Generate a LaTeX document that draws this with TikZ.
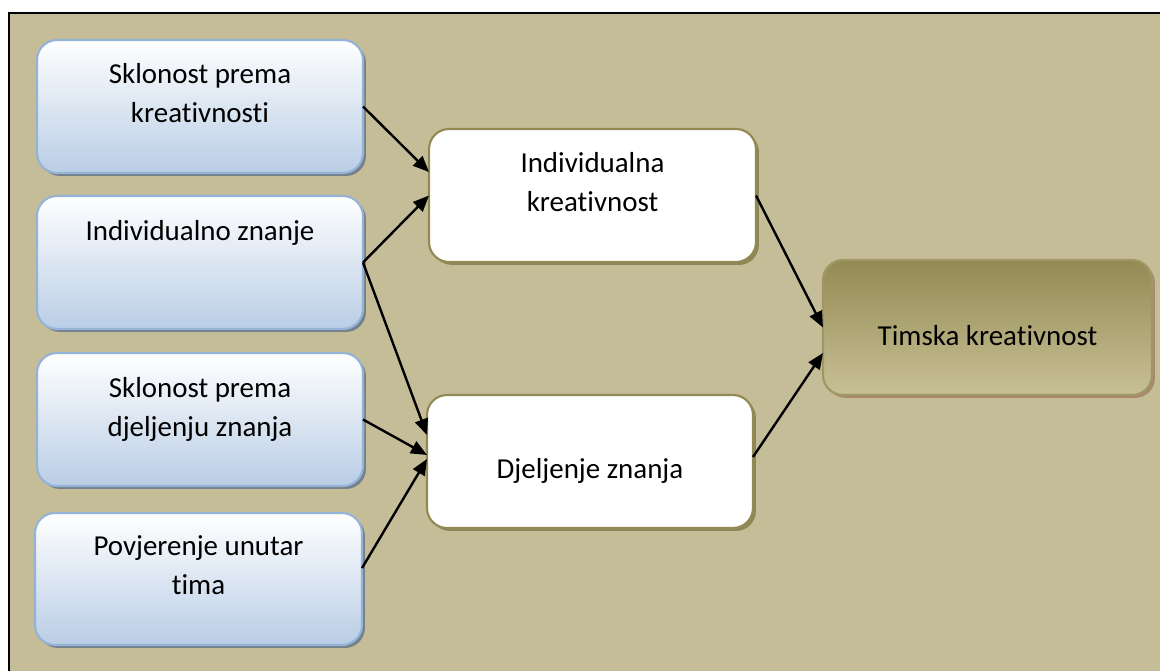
\documentclass[tikz,border=0pt]{standalone}
\usepackage{fontspec}
\setmainfont{Carlito}[Ligatures={NoCommon}]
\usetikzlibrary{arrows.meta,shadows}
\definecolor{bg}{RGB}{196,189,151}
\definecolor{blueline}{RGB}{149,179,215}
\definecolor{bluefill}{RGB}{185,205,229}
\definecolor{blueshadow}{RGB}{118,128,138}
\definecolor{oliveline}{RGB}{147,137,83}
\definecolor{oliveshadow}{RGB}{140,135,88}
\definecolor{rtop}{RGB}{148,138,84}
\definecolor{rbottom}{RGB}{200,192,150}
\definecolor{rline}{RGB}{160,152,100}
\definecolor{rshadow}{RGB}{168,136,112}
\begin{document}
\begin{tikzpicture}[x=0.75pt,y=-0.75pt,
  boxbase/.style={rectangle, rounded corners=15pt, inner sep=0pt, outer sep=0pt, line width=1.6pt},
  bluebox/.style={boxbase, draw=blueline, top color=white, bottom color=bluefill,
    minimum width=244.5pt, minimum height=99.75pt,
    drop shadow={shadow xshift=2.2pt, shadow yshift=-2.2pt, fill=blueshadow, opacity=1}},
  whitebox/.style={boxbase, draw=oliveline, fill=white,
    minimum width=245.25pt, minimum height=99.75pt,
    drop shadow={shadow xshift=2.2pt, shadow yshift=-2.2pt, fill=oliveshadow, opacity=1}},
  olivebox/.style={boxbase, draw=rline, top color=rtop, bottom color=rbottom,
    minimum width=246.75pt, minimum height=101.25pt,
    drop shadow={shadow xshift=2.2pt, shadow yshift=-2.2pt, fill=rshadow, opacity=1}},
  txt/.style={anchor=base, align=center, inner sep=0pt, font=\fontsize{21.7}{29.25}\selectfont},
  conn/.style={line width=1.8pt, -{Triangle[length=12pt,width=10pt]}}
]
\useasboundingbox (0,0) rectangle (1160,671);
\fill[white] (0,0) rectangle (1160,671);
\fill[bg] (9,13) rectangle (1160,671);
\draw[line width=1.5pt] (9,671) -- (9,13) -- (1160,13);

\node[bluebox] (b1) at (200,106.5) {};
\node[bluebox] (b2) at (200,262.5) {};
\node[bluebox] (b3) at (200,419.5) {};
\node[bluebox, minimum width=245.25pt, minimum height=99pt] (b4) at (198.5,579) {};
\node[whitebox] (m1) at (592.5,195.5) {};
\node[whitebox, minimum width=244.5pt] (m2) at (590,461.5) {};
\node[olivebox] (r) at (987.5,327.5) {};

\node[txt] (t1) at (200,122) {Sklonost prema\\kreativnosti};
\node[txt] (t2) at (200,240) {Individualno znanje};
\node[txt] (t3) at (200,436) {Sklonost prema\\djeljenju znanja};
\node[txt] (t4) at (198.5,594) {Povjerenje unutar\\tima};
\node[txt] (t5) at (592.5,211) {Individualna\\kreativnost};
\node[txt] (t6) at (590,478) {Djeljenje znanja};
\node[txt] (t7) at (987.5,345) {Timska kreativnost};

\draw[conn] (b1.east) -- ([yshift=17.6pt]m1.west);
\draw[conn] (b2.east) -- (m1.west);
\draw[conn] (b2.east) -- ([yshift=19.9pt]m2.west);
\draw[conn] (b3.east) -- ([yshift=4.9pt]m2.west);
\draw[conn] ([yshift=8.2pt]b4.east) -- ([yshift=1.9pt]m2.west);
\draw[conn] (m1.east) -- (r.west);
\draw[conn] ([yshift=3.4pt]m2.east) -- ([yshift=-19.1pt]r.west);
\end{tikzpicture}
\end{document}
